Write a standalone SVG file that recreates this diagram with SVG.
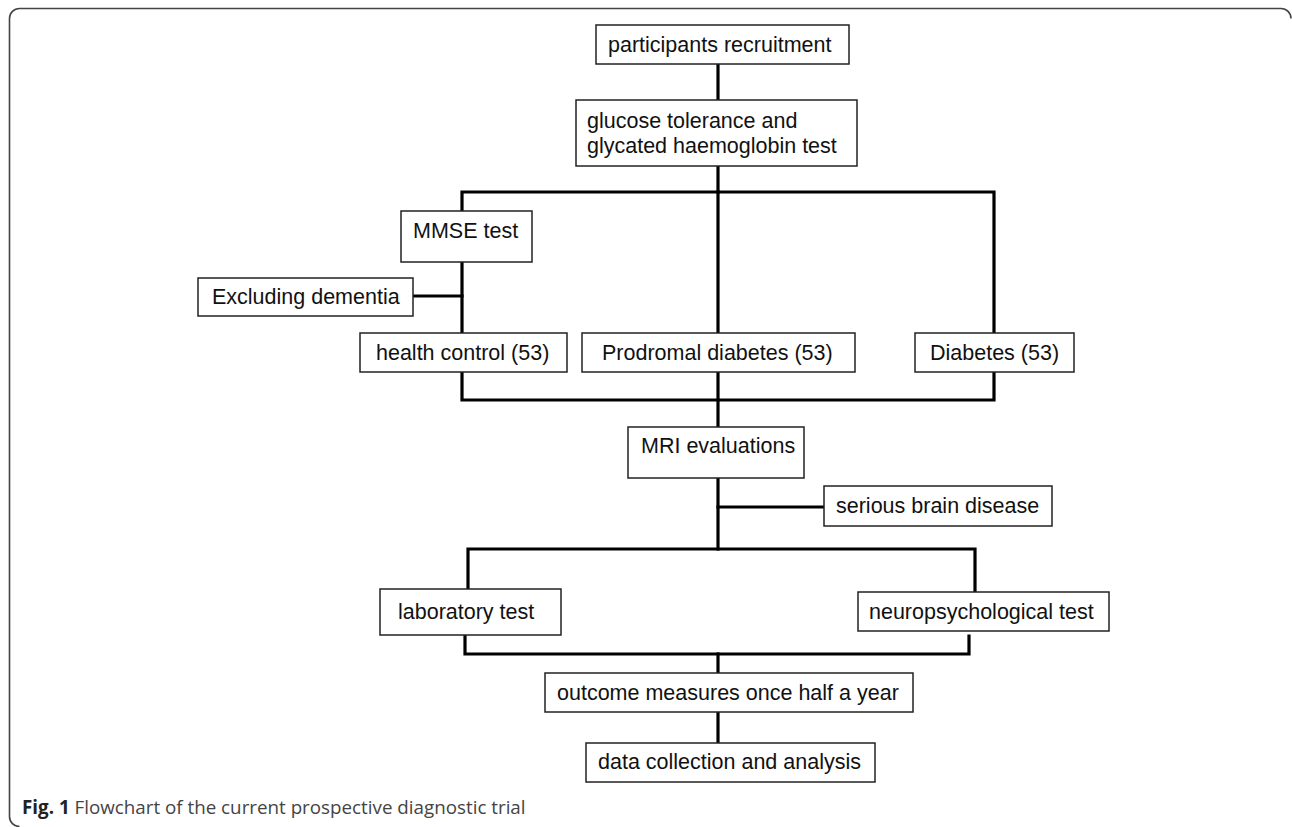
<svg xmlns="http://www.w3.org/2000/svg" width="1292" height="827" viewBox="0 0 1292 827">
<style>
.box{fill:#fff;stroke:#222;stroke-width:1.5}
.t{font-family:"Liberation Sans",Arial,sans-serif;font-size:21.5px;fill:#111}
.ln{stroke:#000;stroke-width:3.2;fill:none;stroke-linecap:square}
.frame{fill:none;stroke:#444;stroke-width:1.6}
.cap{font-family:"Open Sans","Noto Sans",sans-serif;font-size:18.8px;fill:#444}
</style>
<rect width="1292" height="827" fill="#fff"/>
<path class="frame" d="M19.5 826.5 A10 10 0 0 1 9.5 816.5 V18.5 A10 10 0 0 1 19.5 8.5 H1281 A10 10 0 0 1 1291 18.5"/>
<g id="connectors">
<path class="ln" d="M718 64 V100"/>
<path class="ln" d="M718 166 V192"/>
<path class="ln" d="M462 211 V192 H994 V333"/>
<path class="ln" d="M718 192 V333"/>
<path class="ln" d="M462 262 V333"/>
<path class="ln" d="M413 296 H462"/>
<path class="ln" d="M462 372 V400 H994 V372"/>
<path class="ln" d="M718 372 V427"/>
<path class="ln" d="M718 478 V549"/>
<path class="ln" d="M718 507 H824"/>
<path class="ln" d="M468 589 V549 H975 V592"/>
<path class="ln" d="M465 635 V654 H969 V636"/>
<path class="ln" d="M718 654 V673"/>
<path class="ln" d="M718 712 V743"/>
</g>
<g id="recruit"><rect class="box" x="596" y="25" width="253" height="39"/><text class="t" x="608" y="52">participants recruitment</text></g>
<g id="glucose"><rect class="box" x="576" y="100" width="281" height="66"/><text class="t" x="587" y="128">glucose tolerance and</text><text class="t" x="587" y="153">glycated haemoglobin test</text></g>
<g id="mmse"><rect class="box" x="401" y="211" width="131" height="51"/><text class="t" x="413" y="238">MMSE test</text></g>
<g id="excl"><rect class="box" x="198" y="278" width="215" height="38"/><text class="t" x="212" y="304">Excluding dementia</text></g>
<g id="health"><rect class="box" x="360" y="333" width="207" height="39"/><text class="t" x="376" y="360">health control (53)</text></g>
<g id="prodromal"><rect class="box" x="582" y="333" width="273" height="39"/><text class="t" x="602" y="360">Prodromal diabetes (53)</text></g>
<g id="diabetes"><rect class="box" x="915" y="333" width="159" height="39"/><text class="t" x="930" y="360">Diabetes (53)</text></g>
<g id="mri"><rect class="box" x="628" y="427" width="176" height="51"/><text class="t" x="641" y="453">MRI evaluations</text></g>
<g id="brain"><rect class="box" x="824" y="486" width="228" height="40"/><text class="t" x="836" y="513">serious brain disease</text></g>
<g id="lab"><rect class="box" x="380" y="589" width="181" height="46"/><text class="t" x="398" y="619">laboratory test</text></g>
<g id="neuro"><rect class="box" x="858" y="592" width="251" height="39"/><text class="t" x="869" y="619">neuropsychological test</text></g>
<g id="outcome"><rect class="box" x="545" y="673" width="368" height="39"/><text class="t" x="557" y="700">outcome measures once half a year</text></g>
<g id="data"><rect class="box" x="586" y="743" width="289" height="39"/><text class="t" x="598" y="769">data collection and analysis</text></g>
<text class="cap" x="22" y="814"><tspan font-weight="bold" fill="#222">Fig. 1</tspan> Flowchart of the current prospective diagnostic trial</text>
</svg>
